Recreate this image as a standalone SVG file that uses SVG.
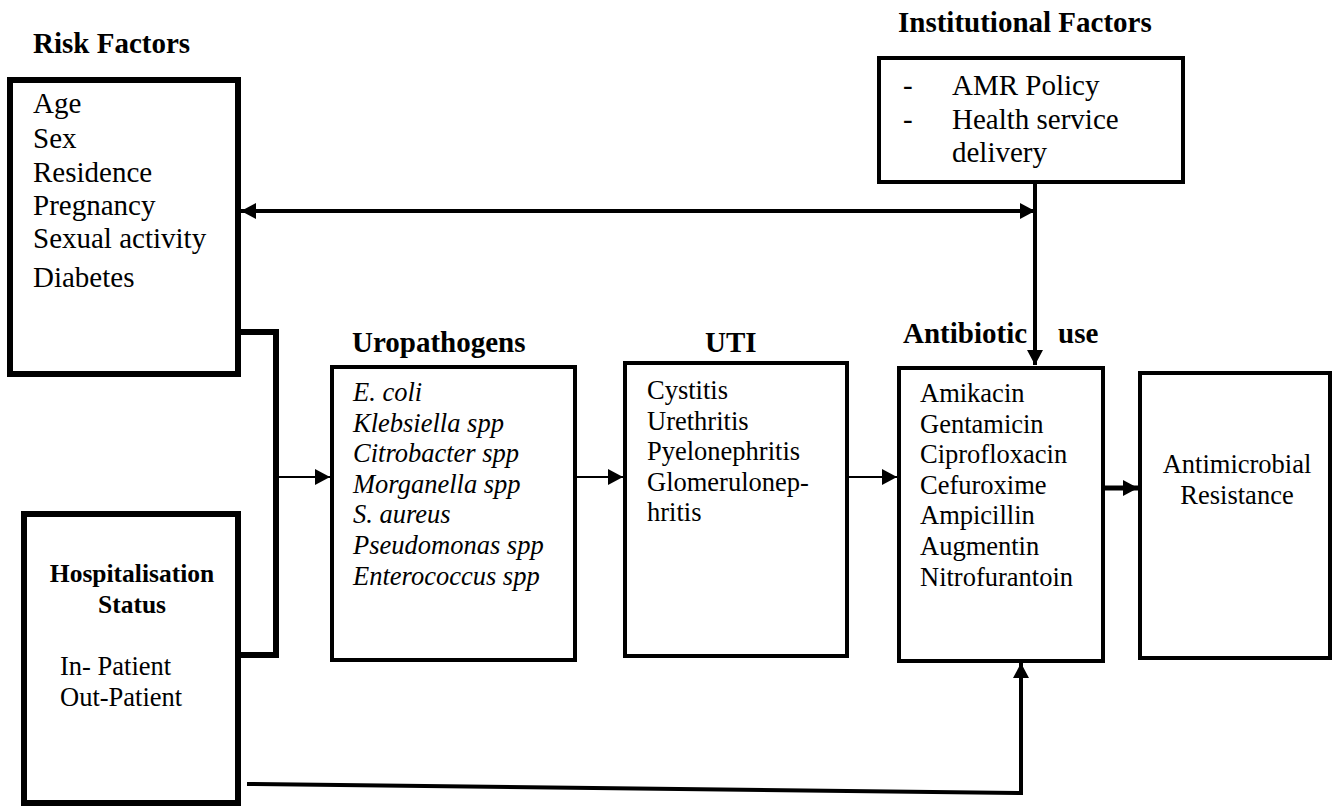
<svg xmlns="http://www.w3.org/2000/svg" width="1333" height="807" viewBox="0 0 1333 807">
<style>
  .box { fill: #fff; stroke: #000; }
  .t { font-family: "Liberation Serif", "Times New Roman", serif; fill: #000; }
  .b { font-weight: bold; font-size: 29px; }
  .n { font-size: 26.5px; }
  .l { font-size: 29px; }
  .i { font-style: italic; font-size: 26.5px; }
  .c { fill: none; stroke: #000; }
</style>
<defs>
  <marker id="ah" markerUnits="userSpaceOnUse" markerWidth="15" markerHeight="16" refX="15" refY="8" orient="auto-start-reverse">
    <path d="M0,0 L15,8 L0,16 z" fill="#000"/>
  </marker>
</defs>
<rect width="1333" height="807" fill="#fff"/>

<g id="risk">
  <text class="t b" x="33" y="53">Risk Factors</text>
  <rect class="box" x="10" y="80" width="228" height="294" stroke-width="6"/>
  <text class="t l" x="33" y="113">Age</text>
  <text class="t l" x="33" y="148">Sex</text>
  <text class="t l" x="33" y="182">Residence</text>
  <text class="t l" x="33" y="215">Pregnancy</text>
  <text class="t l" x="33" y="248">Sexual activity</text>
  <text class="t l" x="33" y="287">Diabetes</text>
</g>

<g id="hospitalisation">
  <rect class="box" x="24" y="514" width="214" height="289" stroke-width="6"/>
  <text class="t" x="132" y="582" text-anchor="middle" font-weight="bold" font-size="25.5">Hospitalisation</text>
  <text class="t" x="132" y="613" text-anchor="middle" font-weight="bold" font-size="25.5">Status</text>
  <text class="t n" x="60" y="675">In- Patient</text>
  <text class="t n" x="60" y="706">Out-Patient</text>
</g>

<g id="institutional">
  <text class="t b" x="898" y="32">Institutional Factors</text>
  <rect class="box" x="879" y="58" width="304" height="124" stroke-width="4"/>
  <text class="t l" x="903" y="95">-</text>
  <text class="t l" x="952" y="95">AMR Policy</text>
  <text class="t l" x="903" y="128.5">-</text>
  <text class="t l" x="952" y="128.5">Health service</text>
  <text class="t l" x="952" y="162">delivery</text>
</g>

<g id="uropathogens">
  <text class="t b" x="352" y="352">Uropathogens</text>
  <rect class="box" x="332" y="367" width="243" height="293" stroke-width="4"/>
  <text class="t i" x="353" y="401">E. coli</text>
  <text class="t i" x="353" y="431.6">Klebsiella spp</text>
  <text class="t i" x="353" y="462.2">Citrobacter spp</text>
  <text class="t i" x="353" y="492.8">Morganella spp</text>
  <text class="t i" x="353" y="523.4">S. aureus</text>
  <text class="t i" x="353" y="554">Pseudomonas spp</text>
  <text class="t i" x="353" y="584.6">Enterococcus spp</text>
</g>

<g id="uti">
  <text class="t b" x="705" y="352">UTI</text>
  <rect class="box" x="625" y="363" width="222" height="293" stroke-width="4"/>
  <text class="t n" x="647" y="399">Cystitis</text>
  <text class="t n" x="647" y="429.6">Urethritis</text>
  <text class="t n" x="647" y="460.2">Pyelonephritis</text>
  <text class="t n" x="647" y="490.8">Glomerulonep-</text>
  <text class="t n" x="647" y="521.4">hritis</text>
</g>

<g id="antibiotic">
  <text class="t b" x="903" y="343">Antibiotic</text>
  <text class="t b" x="1058" y="343">use</text>
  <rect class="box" x="899" y="368" width="204" height="293" stroke-width="4"/>
  <text class="t n" x="920" y="402">Amikacin</text>
  <text class="t n" x="920" y="432.6">Gentamicin</text>
  <text class="t n" x="920" y="463.2">Ciprofloxacin</text>
  <text class="t n" x="920" y="493.8">Cefuroxime</text>
  <text class="t n" x="920" y="524.4">Ampicillin</text>
  <text class="t n" x="920" y="555">Augmentin</text>
  <text class="t n" x="920" y="585.6">Nitrofurantoin</text>
</g>

<g id="amr">
  <rect class="box" x="1140" y="373" width="190" height="285" stroke-width="4"/>
  <text class="t n" x="1237" y="473" text-anchor="middle">Antimicrobial</text>
  <text class="t n" x="1237" y="504" text-anchor="middle">Resistance</text>
</g>

<g id="connectors">
  <line class="c" x1="241" y1="211" x2="1035" y2="211" stroke-width="4" marker-start="url(#ah)" marker-end="url(#ah)"/>
  <line class="c" x1="1035" y1="184" x2="1035" y2="365" stroke-width="4" marker-end="url(#ah)"/>
  <path class="c" d="M241,332 H276 V655 H241" stroke-width="6"/>
  <line class="c" x1="278" y1="477" x2="330" y2="477" stroke-width="2" marker-end="url(#ah)"/>
  <line class="c" x1="577" y1="477" x2="623" y2="477" stroke-width="2" marker-end="url(#ah)"/>
  <line class="c" x1="849" y1="477" x2="897" y2="477" stroke-width="2" marker-end="url(#ah)"/>
  <line class="c" x1="1105" y1="488" x2="1138" y2="488" stroke-width="5" marker-end="url(#ah)"/>
  <path class="c" d="M247,784 L1021,793 V663" stroke-width="4" marker-end="url(#ah)"/>
</g>
</svg>
